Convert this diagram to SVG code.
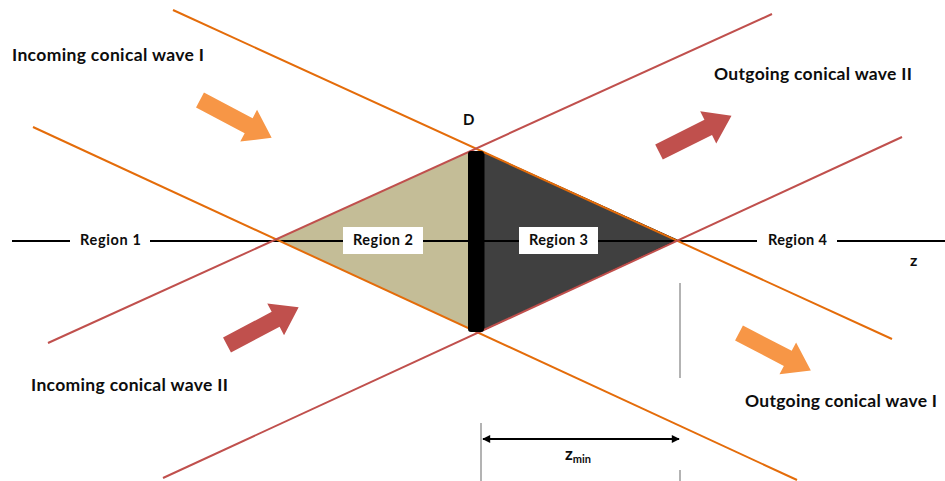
<svg xmlns="http://www.w3.org/2000/svg" width="945" height="481" viewBox="0 0 945 481">
<defs>
<style>
.lbl{font-family:Lato,"Liberation Sans",sans-serif;font-weight:bold;fill:#0d0d0d}
.big{font-size:17.5px}
.reg{font-size:14.5px}
.or{stroke:#E46C0A;stroke-width:2;fill:none}
.rd{stroke:#C0504D;stroke-width:2;fill:none}
.guide{stroke:#808080;stroke-width:1.2}
.box{fill:#ffffff}
</style>
<path id="blk" d="M0,-8.5 L55,-8.5 L55,-18 L81,0 L55,18 L55,8.5 L0,8.5 Z"/>
<marker id="ah" viewBox="0 0 10 10" refX="9" refY="5" markerWidth="9" markerHeight="8" markerUnits="userSpaceOnUse" orient="auto-start-reverse">
<path d="M0,0 L10,5 L0,10 Z" fill="#000"/>
</marker>
</defs>
<rect width="945" height="481" fill="#fff"/>

<g id="region2-fill"><polygon points="276,239.5 470,151.2 470,329" fill="#C4BD97"/></g>
<g id="region3-fill"><polygon points="484,152.3 677.3,240 484,329.9" fill="#404040" stroke="#000" stroke-width="1"/></g>

<g id="connectors">
<line id="axis" x1="12" y1="241" x2="945" y2="241" stroke="#000" stroke-width="2.2"/>
<line class="or" x1="173" y1="10" x2="892" y2="339"/>
<line class="or" x1="33" y1="127" x2="797" y2="480"/>
<line class="rd" x1="48" y1="343" x2="772" y2="14"/>
<line class="rd" x1="163" y1="478" x2="902" y2="137"/>
<line class="guide" x1="680" y1="283" x2="680" y2="378"/>
<line class="guide" x1="680" y1="470" x2="680" y2="481"/>
<line class="guide" x1="481" y1="423" x2="481" y2="481"/>
<line id="zmin-dim" x1="483" y1="439" x2="679" y2="439" stroke="#000" stroke-width="1.8" marker-start="url(#ah)" marker-end="url(#ah)"/>
</g>

<g id="barrier"><rect x="468" y="151" width="16" height="181" rx="3" fill="#000"/></g>

<g id="arrow-in1"><use href="#blk" fill="#F79646" transform="translate(200,100) rotate(27.8)"/></g>
<g id="arrow-out1"><use href="#blk" fill="#F79646" transform="translate(739,333) rotate(27.5)"/></g>
<g id="arrow-out2"><use href="#blk" fill="#C0504D" transform="translate(659,152) rotate(-26.5)"/></g>
<g id="arrow-in2"><use href="#blk" fill="#C0504D" transform="translate(227,345) rotate(-27.8)"/></g>

<g id="region1"><rect class="box" x="70" y="230" width="80" height="22"/><text class="lbl reg" x="80" y="245" textLength="61">Region 1</text></g>
<g id="region2"><rect class="box" x="343" y="227" width="80" height="27"/><text class="lbl reg" x="353" y="245" textLength="60">Region 2</text></g>
<g id="region3"><rect class="box" x="519" y="227" width="79" height="27"/><text class="lbl reg" x="529" y="245" textLength="59">Region 3</text></g>
<g id="region4"><rect class="box" x="757" y="230" width="80" height="22"/><text class="lbl reg" x="768" y="245" textLength="59">Region 4</text></g>

<g id="label-in1"><text class="lbl big" x="12" y="61" textLength="192">Incoming conical wave I</text></g>
<g id="label-out2"><text class="lbl big" x="714" y="80" textLength="198">Outgoing conical wave II</text></g>
<g id="label-in2"><text class="lbl big" x="31" y="391" textLength="197">Incoming conical wave II</text></g>
<g id="label-out1"><text class="lbl big" x="745" y="407" textLength="192">Outgoing conical wave I</text></g>
<g id="label-D"><text class="lbl" font-size="15" x="463" y="125">D</text></g>
<g id="label-z"><text class="lbl" font-size="16" x="910" y="266">z</text></g>
<g id="label-zmin"><text class="lbl" font-size="17" x="565" y="460">z<tspan font-size="11" dy="3">min</tspan></text></g>
</svg>
